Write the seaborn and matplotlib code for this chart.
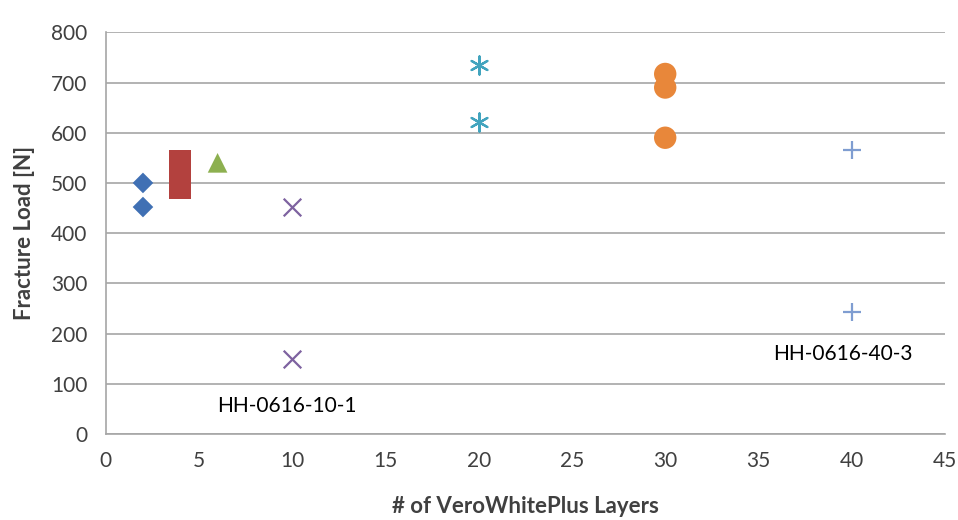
import matplotlib
matplotlib.use("Agg")
import matplotlib.pyplot as plt
import seaborn as sns
import pandas as pd

sns.set_theme(style="white")
plt.rcParams['font.family'] = ['Lato', 'DejaVu Sans']

# data
diamond_x = [2, 2]
diamond_y = [500, 452]
square_x = [4, 4, 4, 4, 4]
square_y = [490, 503, 516, 529, 543]
triangle_x = [6]
triangle_y = [540]
cross_x = [10, 10]
cross_y = [452, 150]
star_x = [20, 20]
star_y = [735, 622]
circle_x = [30, 30, 30]
circle_y = [717, 690, 590]
plus_x = [40, 40]
plus_y = [565, 242]

annotations = ["HH-0616-10-1", "HH-0616-40-3"]

fig = plt.figure(figsize=(9.58, 5.2), dpi=100)
ax = fig.add_axes([0.1103, 0.1654, 0.8761, 0.7725])

series = [
    (diamond_x, diamond_y, "D", "#4070B4", 110, 0),
    (square_x, square_y, "s", "#B3413E", 260, 0),
    (triangle_x, triangle_y, "^", "#8DB050", 200, 0),
    (cross_x, cross_y, "x", "#7E62A0", 160, 1.6),
    (star_x, star_y, (6, 2, 0), "#42A4BE", 170, 1.6),
    (circle_x, circle_y, "o", "#E8873A", 260, 0),
    (plus_x, plus_y, "+", "#7F9DD1", 180, 1.6),
]
for xs, ys, mk, col, size, lw in series:
    df = pd.DataFrame({"x": xs, "y": ys})
    if lw > 0:
        sns.scatterplot(data=df, x="x", y="y", marker=mk, color=col, s=size,
                        linewidth=lw, ax=ax, zorder=3)
    else:
        sns.scatterplot(data=df, x="x", y="y", marker=mk, color=col, s=size,
                        edgecolor="none", linewidth=0, ax=ax, zorder=3)

ax.set_xlim(0, 45)
ax.set_ylim(0, 800)
ax.set_xticks(range(0, 46, 5))
ax.set_yticks(range(0, 801, 100))
ax.yaxis.grid(True, color="#A6A6A6", linewidth=1.2)
ax.xaxis.grid(False)
ax.set_axisbelow(True)
for s in ["top", "right"]:
    ax.spines[s].set_visible(False)
for s in ["left", "bottom"]:
    ax.spines[s].set_color("#A6A6A6")
    ax.spines[s].set_linewidth(1.2)
ax.tick_params(axis="both", which="both", direction="out", length=6, width=1.2,
               color="#A6A6A6", labelsize=15, labelcolor="#404040", pad=6)
ax.tick_params(axis="y", length=7)
ax.set_xlabel("# of VeroWhitePlus Layers", fontsize=16, fontweight="bold",
              color="#404040", labelpad=18)
ax.set_ylabel("Fracture Load [N]", fontsize=16, fontweight="bold",
              color="#404040", labelpad=12)

ax.text(6.0, 55, annotations[0], fontsize=15, color="black", va="center", ha="left")
ax.text(35.8, 160, annotations[1], fontsize=15, color="black", va="center", ha="left")

fig.savefig("out.png", dpi=100)
